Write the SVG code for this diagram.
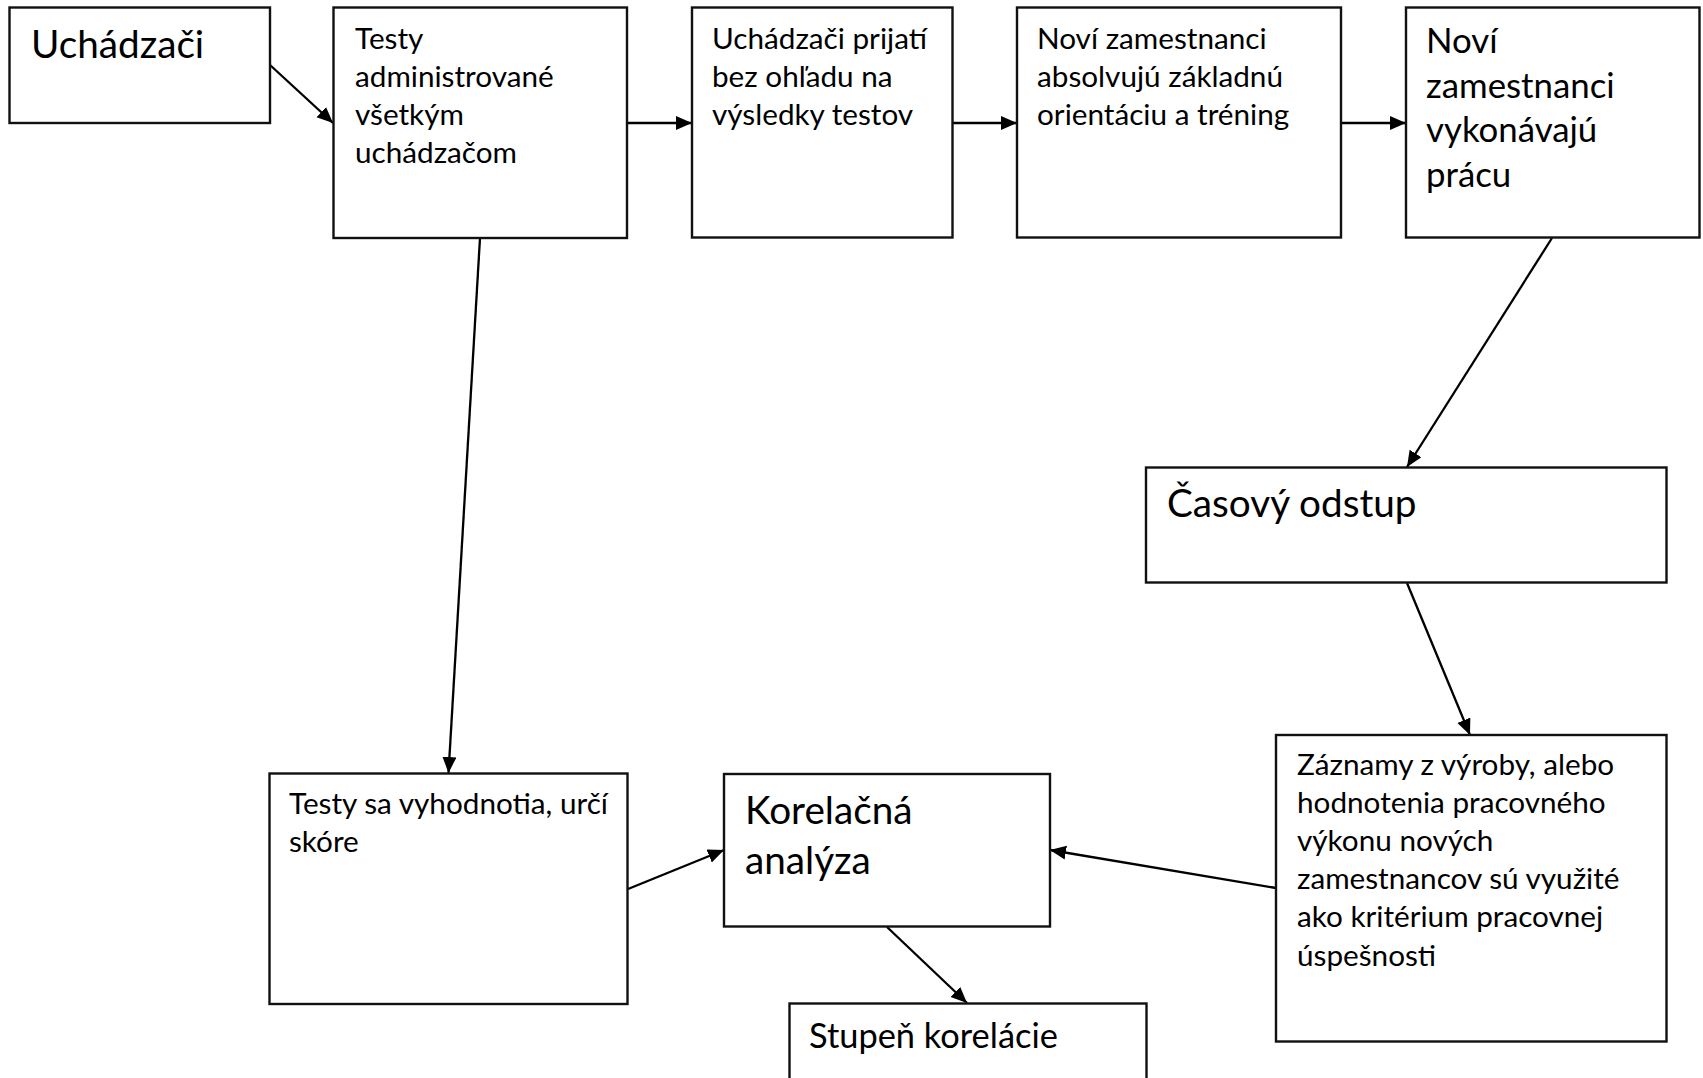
<svg xmlns="http://www.w3.org/2000/svg" width="1703" height="1078" viewBox="0 0 1703 1078">
  <defs>
    <marker id="arrow" markerUnits="userSpaceOnUse" markerWidth="17" markerHeight="15" refX="16" refY="7" orient="auto">
      <path d="M0,0 L16,7 L0,14 z" fill="#000"/>
    </marker>
    <style>
      .box { fill: #fff; stroke: #111; stroke-width: 2.4; }
      .edge { stroke: #000; stroke-width: 2.3; fill: none; marker-end: url(#arrow); }
      text { font-family: Lato, "Open Sans", "Liberation Sans", sans-serif; fill: #000; }
      .s { font-size: 29.7px; }
      .m { font-size: 34.8px; }
      .l { font-size: 38.7px; }
      .x { font-size: 34.4px; }
    </style>
  </defs>

  <rect width="1703" height="1078" fill="#fff"/>

  <!-- connectors -->
  <g id="connectors">
    <line class="edge" x1="270" y1="65" x2="333" y2="123"/>
    <line class="edge" x1="627" y1="123" x2="692" y2="123"/>
    <line class="edge" x1="953" y1="123" x2="1017" y2="123"/>
    <line class="edge" x1="1341" y1="123" x2="1406" y2="123"/>
    <line class="edge" x1="480" y1="238" x2="448.5" y2="773"/>
    <line class="edge" x1="1552" y1="238" x2="1407" y2="467"/>
    <line class="edge" x1="1407" y1="583" x2="1470" y2="735"/>
    <line class="edge" x1="1276" y1="888" x2="1050" y2="850"/>
    <line class="edge" x1="628" y1="889" x2="724" y2="850"/>
    <line class="edge" x1="887" y1="927" x2="967" y2="1003"/>
  </g>

  <!-- top row -->
  <g id="node-uchadzaci">
    <rect class="box" x="9.5" y="7.5" width="260.5" height="115.5"/>
    <text class="l" x="31" y="58">Uchádzači</text>
  </g>

  <g id="node-testy">
    <rect class="box" x="333.5" y="7.5" width="293.5" height="230.5"/>
    <text class="s" x="355" y="49">Testy</text>
    <text class="s" x="355" y="87">administrované</text>
    <text class="s" x="355" y="125">všetkým</text>
    <text class="s" x="355" y="163">uchádzačom</text>
  </g>

  <g id="node-prijati">
    <rect class="box" x="692" y="7.5" width="260.5" height="230"/>
    <text class="s" x="712" y="49">Uchádzači prijatí</text>
    <text class="s" x="712" y="87">bez ohľadu na</text>
    <text class="s" x="712" y="125">výsledky testov</text>
  </g>

  <g id="node-orientacia">
    <rect class="box" x="1017" y="7.5" width="324" height="230"/>
    <text class="s" x="1037" y="49">Noví zamestnanci</text>
    <text class="s" x="1037" y="87">absolvujú základnú</text>
    <text class="s" x="1037" y="125">orientáciu a tréning</text>
  </g>

  <g id="node-praca">
    <rect class="box" x="1406" y="7.5" width="293.5" height="230"/>
    <text class="m" x="1426" y="53">Noví</text>
    <text class="m" x="1426" y="97.5">zamestnanci</text>
    <text class="m" x="1426" y="142">vykonávajú</text>
    <text class="m" x="1426" y="186.5">prácu</text>
  </g>

  <!-- right column -->
  <g id="node-odstup">
    <rect class="box" x="1146" y="467.5" width="520.5" height="115"/>
    <text class="l" x="1167" y="517">Časový odstup</text>
  </g>

  <g id="node-zaznamy">
    <rect class="box" x="1276" y="735" width="390.5" height="306.5"/>
    <text class="s" x="1297" y="775">Záznamy z výroby, alebo</text>
    <text class="s" x="1297" y="813">hodnotenia pracovného</text>
    <text class="s" x="1297" y="851">výkonu nových</text>
    <text class="s" x="1297" y="889">zamestnancov sú využité</text>
    <text class="s" x="1297" y="927">ako kritérium pracovnej</text>
    <text class="s" x="1297" y="966">úspešnosti</text>
  </g>

  <!-- bottom row -->
  <g id="node-vyhodnotenie">
    <rect class="box" x="269.5" y="773.5" width="358" height="230.5"/>
    <text class="s" x="289" y="814">Testy sa vyhodnotia, určí</text>
    <text class="s" x="289" y="852">skóre</text>
  </g>

  <g id="node-korelacia">
    <rect class="box" x="724" y="774" width="326" height="152.5"/>
    <text class="l" x="745" y="824">Korelačná</text>
    <text class="l" x="745" y="874">analýza</text>
  </g>

  <g id="node-stupen">
    <rect class="box" x="789.5" y="1003.5" width="357" height="90"/>
    <text class="x" x="809" y="1048">Stupeň korelácie</text>
  </g>
</svg>
